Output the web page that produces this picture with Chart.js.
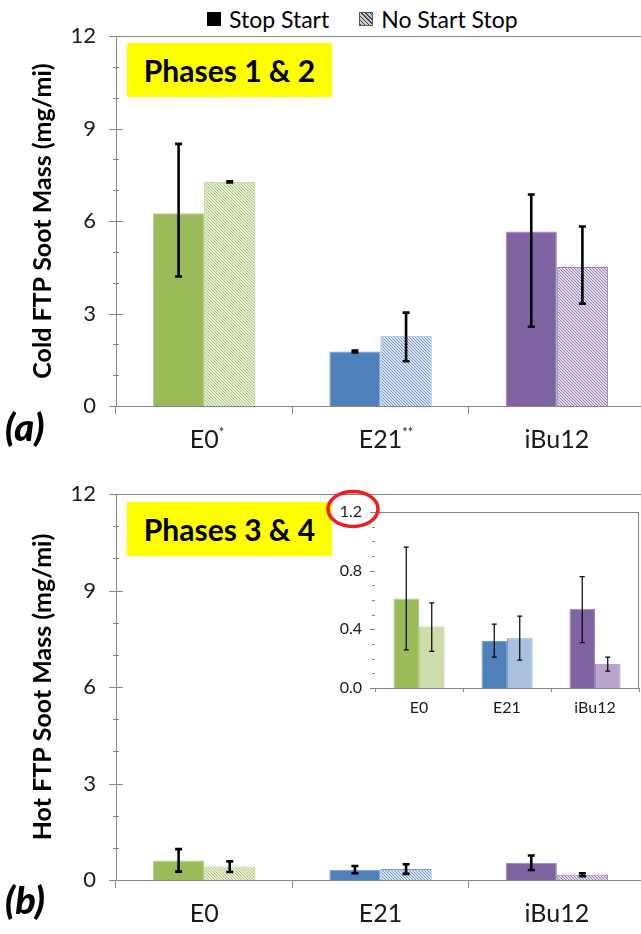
<!DOCTYPE html>
<html>
<head>
<meta charset="utf-8">
<script src="https://cdn.jsdelivr.net/npm/chart.js@4.4.1/dist/chart.umd.min.js"></script>
<style>
  body { margin: 0; width: 641px; height: 934px; overflow: hidden; position: relative; background: #fff; font-family: Lato, "Open Sans", sans-serif; }
  canvas { position: absolute; }
  .phase { position: absolute; width: 205px; height: 54px; background: #ffff00; display: flex; align-items: center; justify-content: center; font-weight: bold; font-size: 30px; color: #000; z-index: 2; }
  .tag { position: absolute; left: 5px; font-weight: 900; font-style: italic; font-size: 38px; color: #000; }
  .legend { position: absolute; top: 5px; left: 207px; font-size: 23px; color: #000; display: flex; align-items: center; }
  .legend .box { width: 14px; height: 14px; margin-right: 8px; box-sizing: border-box; }
</style>
</head>
<body>
<div class="legend">
  <span class="box" style="background:#000"></span><span>Stop Start</span>
  <span class="box" style="margin-left:30px;border:1px solid #555;background:repeating-linear-gradient(45deg,#444 0 1px,#ccc 1px 3px)"></span><span>No Start Stop</span>
</div>
<canvas id="cold" width="650" height="470" style="left:0;top:0"></canvas>
<canvas id="hot" width="650" height="476" style="left:0;top:458px"></canvas>
<canvas id="inset" width="323" height="240" style="left:318px;top:485px;z-index:3"></canvas>
<div class="phase" style="left:127px;top:43px">Phases 1 &amp; 2</div>
<div class="phase" style="left:127px;top:502px">Phases 3 &amp; 4</div>
<div class="tag" style="top:403px">(a)</div>
<div class="tag" style="top:876px">(b)</div>
<script>
// fuels
const categories = ["E0", "E21", "iBu12"];
const coldMarks = ["*", "**", ""];

// cold FTP (phases 1 & 2), mg/mi
const coldStopStart = [6.25, 1.77, 5.66];
const coldStopStartLow = [4.2, 1.74, 2.57];
const coldStopStartHigh = [8.5, 1.8, 6.86];
const coldNoStartStop = [7.27, 2.26, 4.51];
const coldNoStartStopLow = [7.25, 1.45, 3.32];
const coldNoStartStopHigh = [7.29, 3.03, 5.82];

// hot FTP (phases 3 & 4), mg/mi
const hotStopStart = [0.61, 0.32, 0.54];
const hotStopStartLow = [0.26, 0.21, 0.31];
const hotStopStartHigh = [0.96, 0.435, 0.76];
const hotNoStartStop = [0.42, 0.34, 0.165];
const hotNoStartStopLow = [0.25, 0.19, 0.115];
const hotNoStartStopHigh = [0.58, 0.49, 0.21];

const baseColors = ["#9bbb59", "#4f81bd", "#8064a2"];
const edgeColors = ["#b5cc88", "#7a9ccb", "#9c86b8"];
const lightColors = ["#cddcab", "#a9c1df", "#b6a6cb"];
const tintColors = ["#e6eed6", "#d9e3f0", "#e0d9ea"];
const axisGray = "#868686";
const FONT = 'Lato, "Open Sans", sans-serif';

Chart.defaults.font.family = FONT;
Chart.defaults.color = "#1a1a1a";

function hatch(line, bg) {
  const c = document.createElement("canvas");
  c.width = 3; c.height = 3;
  const g = c.getContext("2d");
  g.fillStyle = bg;
  g.fillRect(0, 0, 3, 3);
  g.fillStyle = line;
  g.globalAlpha = 0.75;
  g.fillRect(0, 0, 1, 1);
  g.fillRect(1, 1, 1, 1);
  g.fillRect(2, 2, 1, 1);
  return g.createPattern(c, "repeat");
}
const hatchFills = baseColors.map((c, i) => hatch(c, tintColors[i]));

const errorBars = {
  id: "errorBars",
  afterDatasetsDraw(chart, args, opts) {
    const ctx = chart.ctx;
    const y = chart.scales.y;
    ctx.save();
    ctx.strokeStyle = "#000";
    ctx.lineWidth = opts.width;
    chart.data.datasets.forEach((ds, i) => {
      chart.getDatasetMeta(i).data.forEach((bar, j) => {
        const top = y.getPixelForValue(ds.errHigh[j]);
        const bot = y.getPixelForValue(ds.errLow[j]);
        ctx.beginPath();
        ctx.moveTo(bar.x, top); ctx.lineTo(bar.x, bot);
        ctx.moveTo(bar.x - opts.cap, top); ctx.lineTo(bar.x + opts.cap, top);
        ctx.moveTo(bar.x - opts.cap, bot); ctx.lineTo(bar.x + opts.cap, bot);
        ctx.stroke();
      });
    });
    ctx.restore();
  }
};

const axisMarks = {
  id: "axisMarks",
  beforeDatasetsDraw(chart, args, opts) {
    if (!opts.fill) return;
    const a = chart.chartArea;
    chart.ctx.save();
    chart.ctx.fillStyle = "#fff";
    chart.ctx.fillRect(a.left, a.top, a.right - a.left, a.bottom - a.top);
    chart.ctx.restore();
  },
  afterDraw(chart, args, opts) {
    const ctx = chart.ctx;
    const a = chart.chartArea;
    const y = chart.scales.y;
    ctx.save();
    ctx.strokeStyle = axisGray;
    ctx.lineWidth = 1;
    ctx.beginPath();
    y.ticks.forEach(t => {
      const py = Math.round(y.getPixelForValue(t.value)) + 0.5;
      const major = t.label !== "";
      ctx.moveTo(a.left - (major ? opts.major[0] : opts.minor[0]), py);
      ctx.lineTo(a.left + (major ? opts.major[1] : opts.minor[1]), py);
    });
    // plot area frame
    const top = Math.round(a.top) + 0.5;
    ctx.moveTo(a.left, top);
    ctx.lineTo(opts.frameRight ? a.right : chart.width, top);
    if (opts.frameRight) {
      ctx.moveTo(Math.round(a.right) - 0.5, a.top);
      ctx.lineTo(Math.round(a.right) - 0.5, a.bottom);
    }
    ctx.stroke();
    ctx.restore();
  }
};

const supMarks = {
  id: "supMarks",
  afterDraw(chart, args, opts) {
    if (!opts.marks) return;
    const ctx = chart.ctx;
    const x = chart.scales.x;
    const f = x.options.ticks.font;
    ctx.save();
    opts.marks.forEach((m, i) => {
      if (!m) return;
      ctx.font = `${f.size}px ${FONT}`;
      const w = ctx.measureText(categories[i]).width;
      ctx.font = `13px ${FONT}`;
      ctx.fillStyle = "#1a1a1a";
      ctx.textBaseline = "top";
      ctx.textAlign = "left";
      ctx.fillText(m, x.getPixelForTick(i) + w / 2, x.top + opts.offset);
    });
    ctx.restore();
  }
};

const ellipse = {
  id: "ellipse",
  afterDraw(chart) {
    const y = chart.scales.y;
    const ctx = chart.ctx;
    ctx.save();
    ctx.strokeStyle = "#ee1c1c";
    ctx.lineWidth = 3.5;
    ctx.beginPath();
    ctx.ellipse(y.right - 22, y.getPixelForValue(1.2) - 3, 25, 17.5, 0, 0, Math.PI * 2);
    ctx.stroke();
    ctx.restore();
  }
};

function mainChart(id, title, ss, ssLow, ssHigh, nss, nssLow, nssHigh, xHeight, marks) {
  return new Chart(document.getElementById(id), {
    type: "bar",
    data: {
      labels: categories,
      datasets: [{
        label: "Stop Start",
        data: ss,
        errLow: ssLow,
        errHigh: ssHigh,
        backgroundColor: baseColors,
        borderColor: edgeColors,
        borderWidth: 1
      }, {
        label: "No Start Stop",
        data: nss,
        errLow: nssLow,
        errHigh: nssHigh,
        backgroundColor: hatchFills,
        borderColor: edgeColors,
        borderWidth: 1
      }]
    },
    options: {
      responsive: false,
      animation: false,
      devicePixelRatio: 1,
      layout: { padding: { top: 36, right: 5, left: 0, bottom: 0 } },
      datasets: { bar: { categoryPercentage: 0.58, barPercentage: 1 } },
      plugins: {
        legend: { display: false },
        tooltip: { enabled: false },
        errorBars: { width: 2.6, cap: 3.5 },
        axisMarks: { major: [7, 7], minor: [3, 3] },
        supMarks: { marks: marks, offset: 20 }
      },
      scales: {
        x: {
          grid: { display: true, drawOnChartArea: false, tickLength: 8, color: axisGray },
          border: { display: true, color: axisGray },
          ticks: { font: { size: 25 }, padding: 11, color: "#1a1a1a" },
          afterFit(s) { s.height = xHeight; }
        },
        y: {
          min: 0,
          max: 12,
          grid: { display: false, drawTicks: false },
          border: { display: true, color: axisGray },
          ticks: {
            stepSize: 1,
            autoSkip: false,
            padding: 20,
            font: { size: 22 },
            color: "#1a1a1a",
            callback: v => (v % 3 === 0 ? String(v) : "")
          },
          title: {
            display: true,
            text: title,
            font: { size: 25, weight: "bold" },
            color: "#000",
            padding: { top: 28, bottom: 0 }
          },
          afterFit(s) { s.width = 116; }
        }
      }
    },
    plugins: [axisMarks, errorBars, supMarks]
  });
}

mainChart("cold", "Cold FTP Soot Mass (mg/mi)",
  coldStopStart, coldStopStartLow, coldStopStartHigh,
  coldNoStartStop, coldNoStartStopLow, coldNoStartStopHigh, 64, coldMarks);

mainChart("hot", "Hot FTP Soot Mass (mg/mi)",
  hotStopStart, hotStopStartLow, hotStopStartHigh,
  hotNoStartStop, hotNoStartStopLow, hotNoStartStopHigh, 54, null);

// zoomed inset of the hot FTP results
new Chart(document.getElementById("inset"), {
  type: "bar",
  data: {
    labels: categories,
    datasets: [{
      label: "Stop Start",
      data: hotStopStart,
      errLow: hotStopStartLow,
      errHigh: hotStopStartHigh,
      backgroundColor: baseColors,
      borderColor: edgeColors,
      borderWidth: 1
    }, {
      label: "No Start Stop",
      data: hotNoStartStop,
      errLow: hotNoStartStopLow,
      errHigh: hotNoStartStopHigh,
      backgroundColor: lightColors,
      borderColor: edgeColors,
      borderWidth: 1
    }]
  },
  options: {
    responsive: false,
    animation: false,
    devicePixelRatio: 1,
    layout: { padding: { top: 27, right: 2, left: 0, bottom: 0 } },
    datasets: { bar: { categoryPercentage: 0.58, barPercentage: 1 } },
    plugins: {
      legend: { display: false },
      tooltip: { enabled: false },
      errorBars: { width: 1.2, cap: 2.5 },
      axisMarks: { major: [5, 0], minor: [3, 0], fill: true, frameRight: true }
    },
    scales: {
      x: {
        grid: { display: true, drawOnChartArea: false, tickLength: 4, color: axisGray },
        border: { display: true, color: axisGray },
        ticks: { font: { size: 16 }, padding: 6, color: "#1a1a1a" },
        afterFit(s) { s.height = 37; }
      },
      y: {
        min: 0,
        max: 1.2,
        grid: { display: false, drawTicks: false },
        border: { display: true, color: axisGray },
        ticks: {
          stepSize: 0.1,
          autoSkip: false,
          padding: 13,
          font: { size: 16 },
          color: "#1a1a1a",
          callback: v => (Math.round(v * 10) % 4 === 0 ? v.toFixed(1) : "")
        },
        afterFit(s) { s.width = 57; }
      }
    }
  },
  plugins: [axisMarks, errorBars, ellipse]
});
</script>
</body>
</html>
